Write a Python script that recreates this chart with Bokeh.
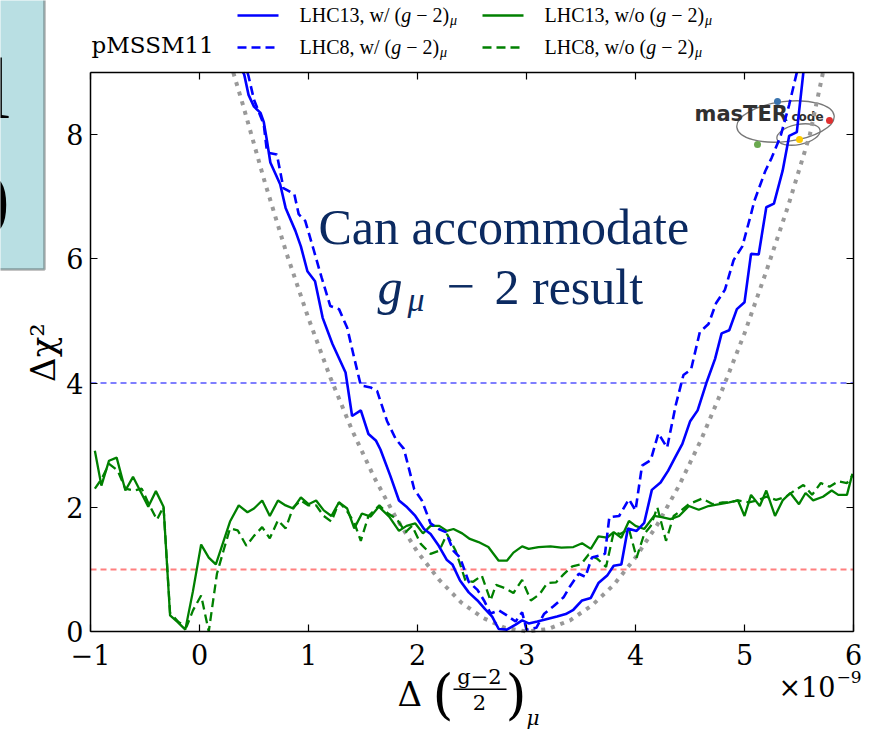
import math

from bokeh.plotting import figure
from bokeh.models import Range1d, LinearAxis, FixedTicker, Label, BoxAnnotation
from bokeh.core.properties import value
from bokeh.embed import file_html
from bokeh.resources import INLINE

# ---------------- profile likelihood curves ----------------
# LHC13, with (g-2)_mu
lhc13_w_x = [0.40, 0.41, 0.45, 0.50, 0.56, 0.59, 0.62, 0.65, 0.74, 0.79, 0.88, 0.93,
             0.99, 1.06, 1.13, 1.22, 1.34, 1.40, 1.48, 1.55, 1.62, 1.66, 1.75, 1.83,
             1.905, 1.98, 2.06, 2.12, 2.195, 2.27, 2.32, 2.39, 2.47, 2.55, 2.62, 2.685,
             2.745, 2.82, 2.90, 2.96, 3.02, 3.10, 3.19, 3.28, 3.36, 3.43, 3.51, 3.59,
             3.66, 3.74, 3.80, 3.87, 3.93, 4.01, 4.08, 4.15, 4.23, 4.30, 4.36, 4.43,
             4.50, 4.57, 4.65, 4.73, 4.79, 4.86, 4.93, 5.00, 5.06, 5.13, 5.20, 5.27,
             5.35, 5.41, 5.48, 5.54]
lhc13_w_y = [9.00, 8.97, 8.64, 8.45, 8.35, 8.20, 7.89, 7.55, 7.20, 6.82, 6.45, 6.20,
             5.80, 5.64, 5.05, 4.63, 4.17, 3.47, 3.56, 3.18, 3.07, 2.93, 2.51, 2.11,
             2.00, 1.86, 1.65, 1.57, 1.38, 1.15, 1.08, 0.82, 0.63, 0.50, 0.36, 0.24,
             0.04, 0.03, 0.11, 0.18, 0.13, 0.16, 0.20, 0.24, 0.28, 0.35, 0.50, 0.54,
             0.78, 0.90, 1.06, 1.08, 1.66, 1.62, 1.75, 2.28, 2.40, 2.59, 2.79, 3.02,
             3.38, 3.56, 4.00, 4.39, 4.80, 4.85, 5.19, 5.30, 6.08, 6.07, 6.83, 6.89,
             7.42, 7.98, 8.04, 9.00]

# LHC8, with (g-2)_mu
lhc8_w_x = [0.44, 0.45, 0.50, 0.59, 0.62, 0.71, 0.77, 0.87, 0.91, 0.97, 1.05, 1.12,
            1.20, 1.28, 1.355, 1.42, 1.48, 1.57, 1.63, 1.72, 1.80, 1.875, 1.97, 2.04,
            2.12, 2.195, 2.26, 2.33, 2.39, 2.47, 2.55, 2.61, 2.67, 2.745, 2.82, 2.90,
            2.96, 3.00, 3.09, 3.16, 3.25, 3.34, 3.40, 3.48, 3.54, 3.60, 3.72, 3.76,
            3.85, 3.94, 4.00, 4.06, 4.14, 4.21, 4.29, 4.37, 4.44, 4.51, 4.59, 4.67,
            4.74, 4.82, 4.90, 4.98, 5.06, 5.09, 5.19, 5.25, 5.33, 5.41, 5.48]
lhc8_w_y = [9.00, 8.94, 8.56, 8.16, 7.71, 7.68, 7.14, 7.04, 6.72, 6.61, 6.13, 5.70,
            5.24, 5.19, 4.89, 4.40, 3.96, 3.93, 3.87, 3.39, 3.10, 2.94, 2.29, 2.11,
            1.74, 1.65, 1.60, 1.30, 1.19, 0.80, 0.67, 0.50, 0.29, 0.34, 0.26, 0.16,
            0.31, 0.03, 0.06, 0.28, 0.41, 0.55, 0.73, 0.93, 0.88, 1.19, 1.25, 1.84,
            1.86, 2.13, 1.95, 2.67, 2.76, 3.19, 2.96, 3.65, 4.13, 4.22, 4.82, 4.95,
            5.29, 5.50, 5.98, 6.20, 6.72, 6.93, 7.41, 7.63, 7.97, 8.48, 9.00]

# LHC13, without (g-2)_mu
lhc13_wo_x = [-0.96, -0.90, -0.83, -0.76, -0.68, -0.61, -0.54, -0.47, -0.40, -0.33,
              -0.27, -0.20, -0.13, -0.06, 0.015, 0.085, 0.15, 0.22, 0.28, 0.36, 0.44,
              0.50, 0.575, 0.645, 0.72, 0.79, 0.86, 0.93, 1.00, 1.07, 1.14, 1.21, 1.28,
              1.355, 1.42, 1.49, 1.57, 1.645, 1.74, 1.83, 1.90, 1.98, 2.05, 2.12, 2.20,
              2.27, 2.33, 2.41, 2.48, 2.56, 2.65, 2.745, 2.82, 2.88, 2.96, 3.02, 3.11,
              3.22, 3.32, 3.43, 3.51, 3.59, 3.66, 3.74, 3.80, 3.87, 3.94, 4.00, 4.08,
              4.17, 4.24, 4.32, 4.40, 4.49, 4.58, 4.67, 4.77, 4.86, 4.94, 5.00, 5.06,
              5.14, 5.20, 5.28, 5.35, 5.42, 5.50, 5.56, 5.63, 5.72, 5.80, 5.86, 5.94,
              5.99]
lhc13_wo_y = [2.91, 2.35, 2.75, 2.80, 2.27, 2.49, 2.25, 2.01, 2.26, 2.01,
              0.26, 0.15, 0.03, 0.65, 1.40, 1.19, 1.08, 1.45, 1.77, 2.03, 1.92,
              1.98, 2.11, 1.86, 2.11, 2.03, 1.98, 2.16, 2.05, 2.11, 1.95, 1.86, 2.08,
              1.98, 1.66, 1.90, 1.85, 2.01, 1.85, 1.62, 1.70, 1.74, 1.58, 1.70, 1.70,
              1.62, 1.65, 1.58, 1.49, 1.44, 1.36, 1.14, 1.14, 1.27, 1.37, 1.33, 1.36,
              1.37, 1.35, 1.36, 1.42, 1.33, 1.53, 1.51, 1.60, 1.51, 1.78, 1.70, 1.65,
              1.86, 1.84, 1.81, 1.86, 2.02, 1.96, 2.02, 2.05, 2.08, 2.11, 1.86, 2.20,
              2.02, 2.27, 1.86, 2.11, 2.23, 2.05, 2.23, 2.11, 2.17, 2.27, 2.20, 2.20,
              2.54]

# LHC8, without (g-2)_mu
lhc8_wo_x = [-0.96, -0.90, -0.83, -0.75, -0.68, -0.60, -0.53, -0.47, -0.39, -0.33,
             -0.27, -0.19, -0.12, -0.06, 0.015, 0.085, 0.16, 0.22, 0.28, 0.35, 0.43,
             0.50, 0.575, 0.645, 0.72, 0.79, 0.86, 0.93, 1.00, 1.07, 1.14, 1.21, 1.28,
             1.35, 1.42, 1.48, 1.55, 1.65, 1.73, 1.81, 1.89, 1.95, 2.03, 2.12, 2.20,
             2.27, 2.35, 2.44, 2.51, 2.59, 2.67, 2.72, 2.80, 2.88, 2.96, 3.04, 3.12,
             3.19, 3.27, 3.34, 3.42, 3.50, 3.57, 3.65, 3.73, 3.80, 3.86, 3.94, 4.01,
             4.08, 4.14, 4.20, 4.28, 4.35, 4.42, 4.49, 4.61, 4.71, 4.80, 4.86, 4.94,
             5.04, 5.12, 5.20, 5.29, 5.38, 5.46, 5.54, 5.62, 5.70, 5.78, 5.86, 5.94,
             5.99]
lhc8_wo_y = [2.30, 2.45, 2.70, 2.59, 2.30, 2.27, 2.30, 2.07, 1.80, 2.01,
             0.30, 0.15, 0.07, 0.34, 0.58, 0.00, 0.93, 1.30, 1.66, 1.63, 1.38,
             1.54, 1.68, 1.50, 1.79, 1.66, 2.00, 2.11, 2.03, 2.03, 1.86, 1.77, 2.08,
             1.95, 1.75, 1.46, 1.86, 2.03, 1.90, 1.81, 1.60, 1.70, 1.41, 1.25, 1.30,
             1.57, 1.30, 0.82, 0.80, 0.90, 0.50, 0.75, 0.70, 0.62, 0.83, 0.50, 0.60,
             0.78, 0.79, 0.92, 1.05, 1.08, 1.24, 1.17, 1.04, 1.60, 1.57, 1.65, 1.19,
             1.57, 1.70, 2.00, 1.46, 1.86, 1.95, 2.05, 2.14, 2.05, 2.08, 2.08, 2.11,
             2.08, 2.11, 2.17, 2.12, 2.17, 2.27, 2.36, 2.20, 2.39, 2.33, 2.42, 2.39,
             2.51]

# (g-2)_mu contribution alone
gm2_x = [0.31, 0.4, 0.6, 0.8, 1.0, 1.2, 1.4, 1.6, 1.8, 2.0, 2.2, 2.4, 2.6, 2.8, 3.0,
         3.2, 3.4, 3.6, 3.8, 4.0, 4.2, 4.4, 4.6, 4.8, 5.0, 5.2, 5.4, 5.6, 5.72]
gm2_y = [9.00, 8.47, 7.23, 6.08, 5.04, 4.09, 3.24, 2.49, 1.84, 1.28, 0.83, 0.47, 0.22,
         0.06, 0.00, 0.04, 0.18, 0.42, 0.75, 1.19, 1.72, 2.35, 3.08, 3.91, 4.80, 5.80,
         6.85, 8.00, 9.00]

# reference levels
levels = [1, 4]
level_colors = ["#ff0000", "#0000ff"]

x_lim = (-1, 6)
y_lim = (0, 9)
x_ticks = [-1, 0, 1, 2, 3, 4, 5, 6]
y_ticks = [0, 2, 4, 6, 8]

# legend entries: text before the italic g, then the rest of (g - 2)
legend_left = ["LHC13, w/ (", "LHC8, w/ ("]
legend_right = ["LHC13, w/o (", "LHC8, w/o ("]
legend_tail = "\u2212 2)"

# ---------------- page geometry ----------------
W, H = 874, 738
BOX_L, BOX_R, BOX_T, BOX_B = 90, 853, 72, 631   # pixel box of the axes
SX = (BOX_R - BOX_L) / (x_lim[1] - x_lim[0])
SY = (BOX_B - BOX_T) / (y_lim[1] - y_lim[0])
SERIF = "DejaVu Serif"
TIMES = "Liberation Serif"
BASE_SHIFT = 0.34  # baseline offset of Label text, in em


def dx(px):
    return x_lim[0] + (px - BOX_L) / SX


def dy(py):
    return y_lim[0] + (BOX_B - py) / SY


# the drawing area spans the whole page; the axes sit at fixed locations
p = figure(width=W, height=H, x_range=Range1d(dx(0), dx(W)), y_range=Range1d(dy(H), dy(0)),
           output_backend="svg", toolbar_location=None,
           min_border=0, min_border_left=0, min_border_right=0,
           min_border_top=0, min_border_bottom=0)
p.grid.visible = False
p.outline_line_color = None
p.background_fill_color = "white"
p.border_fill_color = "white"


def style_axis(ax, ticks, bounds, loc, labels=True):
    ax.ticker = FixedTicker(ticks=ticks)
    ax.bounds = bounds
    ax.fixed_location = loc
    ax.major_tick_in = 7
    ax.major_tick_out = 0
    ax.minor_tick_line_color = None
    ax.major_tick_line_color = "black"
    ax.major_tick_line_width = 1.2
    ax.axis_line_color = "black"
    ax.axis_line_width = 1.5
    ax.major_label_text_font = SERIF
    if labels:
        ax.major_label_text_font_size = "27px"
        ax.major_label_text_color = "black"
    else:
        ax.major_label_text_font_size = "0px"
        ax.major_label_text_color = None


style_axis(p.xaxis[0], x_ticks, x_lim, y_lim[0])
p.xaxis[0].major_label_standoff = 12
p.xaxis[0].major_label_overrides = {-1: "\u22121"}
style_axis(p.yaxis[0], y_ticks, y_lim, x_lim[0])
p.yaxis[0].major_label_standoff = 7

top_axis = LinearAxis()
style_axis(top_axis, x_ticks, x_lim, y_lim[1], labels=False)
p.add_layout(top_axis, "above")
right_axis = LinearAxis()
style_axis(right_axis, y_ticks, y_lim, x_lim[1], labels=False)
p.add_layout(right_axis, "right")

for lv, col in zip(levels, level_colors):
    p.line(x=list(x_lim), y=[lv, lv], line_color=col, line_alpha=0.5,
           line_dash="6 4", line_width=2)

# MasterCode logo
p.ellipse(x=[dx(785), dx(798)], y=[dy(121), dy(134)], width=[98, 44], height=[40, 20],
          angle=[0.12, 0.2], width_units="screen", height_units="screen",
          fill_color=None, line_color="#777777", line_width=1.3)
p.text(x=[dx(694)], y=[dy(121 - BASE_SHIFT * 21)], text=["masTER"],
       text_font=value("DejaVu Sans"), text_font_size="21px", text_color="#303030",
       text_font_style="bold", text_baseline="alphabetic")
p.text(x=[dx(791)], y=[dy(121 - BASE_SHIFT * 12)], text=["code"],
       text_font=value("DejaVu Sans"), text_font_size="12px", text_color="#303030",
       text_font_style="bold", text_baseline="alphabetic")
p.scatter(x=[dx(777), dx(829), dx(757), dx(799)], y=[dy(101), dy(120), dy(144), dy(139)],
          size=7, color=["#3b75af", "#e03030", "#6aa84f", "#ffcc00"], line_color=None)

# curves
GREEN, BLUE = "#008000", "#0000ff"
p.line(gm2_x, gm2_y, line_color="#999999", line_width=4, line_dash="4 6")
p.line(lhc13_wo_x, lhc13_wo_y, line_color=GREEN, line_width=2.3)
p.line(lhc8_wo_x, lhc8_wo_y, line_color=GREEN, line_width=2.3, line_dash="9 5")
p.line(lhc13_w_x, lhc13_w_y, line_color=BLUE, line_width=2.6)
p.line(lhc8_w_x, lhc8_w_y, line_color=BLUE, line_width=2.6, line_dash="9 5")


def add_text(text, px, py, size, font=SERIF, color="black", style="normal",
             align="left", baseline="alphabetic", angle=0.0):
    yy = py - BASE_SHIFT * size if baseline == "alphabetic" else py
    p.add_layout(Label(x=dx(px), y=dy(yy), text=text, text_font=font,
                       text_font_size=f"{size}px", text_color=color,
                       text_font_style=style, text_align=align,
                       text_baseline=baseline, angle=angle))


def add_box(left_px, right_px, top_px, bottom_px, **kw):
    p.add_layout(BoxAnnotation(left=dx(left_px), right=dx(right_px),
                               top=dy(top_px), bottom=dy(bottom_px), **kw))


# Times advance widths (per 1000 em) used to set the legend texts piece by piece
ADV = {"L": 611, "H": 722, "C": 667, "1": 500, "3": 500, "8": 500, ",": 250, " ": 250,
       "w": 722, "/": 278, "o": 500, "(": 333, ")": 333, "2": 500, "\u2212": 564, "g": 500}


def text_width(s, size):
    return sum(ADV[c] for c in s) * size / 1000


LEG_SIZE = 20


def legend_column(heads, colour, left_px):
    for head, dash, row_y in zip(heads, ["solid", "9 5"], [15, 47]):
        p.line(x=[dx(left_px), dx(left_px + 41)], y=[dy(row_y), dy(row_y)],
               line_color=colour, line_width=2.6, line_dash=dash)
        base = row_y + 6
        x0 = left_px + 62
        add_text(head, x0, base, LEG_SIZE, font=TIMES)
        x0 += text_width(head, LEG_SIZE)
        add_text("g", x0, base, LEG_SIZE, font=TIMES, style="italic")
        x0 += text_width("g ", LEG_SIZE)
        add_text(legend_tail, x0, base, LEG_SIZE, font=TIMES)
        x0 += text_width(legend_tail, LEG_SIZE)
        add_text("\u03bc", x0 + 1, base + 4, 14, font=TIMES, style="italic")


legend_column(legend_left, BLUE, 237)
legend_column(legend_right, GREEN, 482)

add_text("pMSSM11", 91, 52, 23)

# y-axis title
add_text("\u0394\u03c7\u00b2", 42, 352, 34, align="center", baseline="middle",
         angle=math.pi / 2)

# x-axis title: Delta((g-2)/2)_mu
add_text("\u0394", 397, 705, 34)
add_text("(", 432, 694, 54, baseline="middle")
add_text("g\u22122", 479, 684, 21, align="center")
add_text("2", 479, 709, 21, align="center")
add_text(")", 505, 694, 54, baseline="middle")
add_text("\u03bc", 526, 724, 20, style="italic")
add_box(453, 506, 688, 689.5, fill_color="black", fill_alpha=1, line_color=None)

add_text("\u00d710", 778, 696, 27)
add_text("\u22129", 836, 682, 17)

# slide panel at the left edge
add_box(-5, 44, -5, 269, fill_color="#b9dfe3", fill_alpha=1, line_color="black",
        line_width=2.5)
add_text("l", -14, 118, 86, font=TIMES)
add_text("0", -34, 233, 86, font=TIMES)

# note on the plot
NAVY = "#0b2a61"
add_text("Can accommodate", 318, 243, 50, font=TIMES, color=NAVY)
add_text("g", 377, 303, 50, font=TIMES, color=NAVY, style="italic")
add_text("\u03bc", 407, 311, 34, font=TIMES, color=NAVY, style="italic")
add_text("\u2212", 446, 303, 50, font=TIMES, color=NAVY)
add_text("2 result", 494, 303, 50, font=TIMES, color=NAVY)

open("out.html", "w").write(file_html(p, INLINE))
